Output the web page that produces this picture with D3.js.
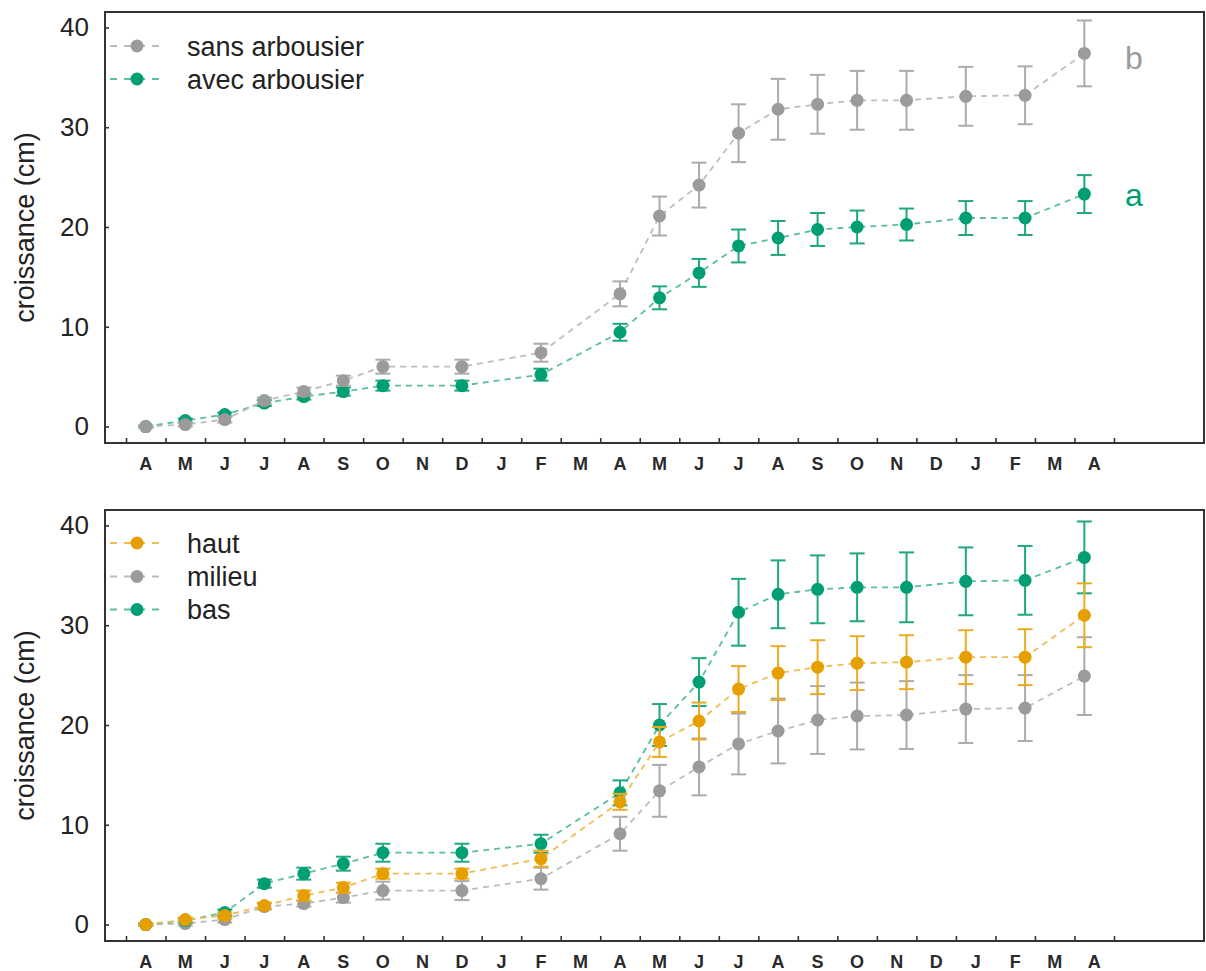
<!DOCTYPE html>
<html>
<head>
<meta charset="utf-8">
<script src="https://cdn.jsdelivr.net/npm/d3@7"></script>
<style>
  html, body { margin: 0; padding: 0; background: #fff; }
  svg { display: block; font-family: "Liberation Sans", Arial, sans-serif; }
</style>
</head>
<body>
<svg id="chart" width="1206" height="971"></svg>
<script>
// ---- data ----
const monthLabels = ["A","M","J","J","A","S","O","N","D","J","F","M","A","M","J","J","A","S","O","N","D","J","F","M","A"];
// measurement times, in month index (0 = first April)
const timeIdx = [0,1,2,3,4,5,6,8,10,12,13,14,15,16,17,18,19.25,20.75,22.25,23.75];
const yTicks = [0,10,20,30,40];

const sansMean = [0,0.2,0.7,2.6,3.5,4.6,6.0,6.0,7.4,13.3,21.1,24.2,29.4,31.8,32.3,32.7,32.7,33.1,33.2,37.4];
const sansErr  = [0.1,0.2,0.3,0.3,0.4,0.5,0.7,0.7,0.9,1.25,1.95,2.25,2.9,3.05,2.95,2.95,2.95,2.95,2.9,3.3];
const avecMean = [0,0.6,1.2,2.35,3.0,3.5,4.1,4.1,5.2,9.45,12.9,15.4,18.1,18.9,19.75,20.0,20.25,20.9,20.9,23.3];
const avecErr  = [0.1,0.2,0.2,0.3,0.3,0.4,0.5,0.5,0.6,0.85,1.15,1.4,1.65,1.7,1.65,1.65,1.6,1.7,1.7,1.9];

const hautMean   = [0,0.5,0.9,1.9,2.9,3.7,5.1,5.1,6.6,12.3,18.3,20.4,23.6,25.2,25.8,26.2,26.3,26.8,26.8,31.0];
const hautErr    = [0.1,0.2,0.3,0.3,0.5,0.5,0.5,0.5,0.8,0.8,1.5,1.85,2.3,2.7,2.7,2.7,2.7,2.7,2.8,3.2];
const milieuMean = [0,0.1,0.5,1.8,2.1,2.7,3.4,3.4,4.6,9.1,13.4,15.8,18.1,19.4,20.5,20.9,21.0,21.6,21.7,24.9];
const milieuErr  = [0.1,0.2,0.3,0.3,0.3,0.5,0.9,0.95,1.1,1.7,2.6,2.85,3.05,3.25,3.4,3.35,3.4,3.4,3.3,3.9];
const basMean    = [0,0.4,1.2,4.1,5.1,6.1,7.2,7.2,8.1,13.2,20.0,24.3,31.3,33.1,33.6,33.8,33.8,34.4,34.5,36.8];
const basErr     = [0.1,0.2,0.3,0.4,0.6,0.7,0.9,0.9,0.9,1.25,2.1,2.4,3.35,3.4,3.4,3.4,3.5,3.4,3.45,3.6];

const yLabel = "croissance (cm)";

// ---- styles ----
const COL = {
  gray:   {dot:"#9b9b9b", bar:"#ababab", line:"#bdbdbd"},
  green:  {dot:"#009E73", bar:"#1fa87f", line:"#5cbf9c"},
  orange: {dot:"#E69F00", bar:"#ebac22", line:"#f0bb55"}
};

const svg = d3.select("#chart");
const boxLeft = 105, boxRight = 1204, panelH = 431;

const x = d3.scaleLinear().domain([-0.5, 24.5]).range([126, 1114]);

function drawPanel(top, series, legend, notes) {
  const y = d3.scaleLinear().domain([-1.65, 41.55]).range([top + panelH, top]);
  const g = svg.append("g");

  // y ticks and labels
  const yAxis = d3.axisLeft(y).tickValues(yTicks).tickSize(-4).tickPadding(16).tickFormat(d3.format("d"));
  const ya = g.append("g").attr("transform", `translate(${boxLeft},0)`).call(yAxis);
  ya.select(".domain").remove();
  ya.selectAll(".tick line").attr("stroke", "#333").attr("stroke-width", 1.6);
  ya.selectAll(".tick text").attr("font-size", 26).attr("fill", "#222")
    .attr("font-family", "Liberation Sans, Arial, sans-serif");

  // x ticks (boundaries) and month labels
  const bounds = d3.range(-0.5, 25, 1);
  const xAxis = d3.axisBottom(x).tickValues(bounds).tickSize(-5).tickFormat("");
  const xa = g.append("g").attr("transform", `translate(0,${top + panelH})`).call(xAxis);
  xa.select(".domain").remove();
  xa.selectAll(".tick line").attr("stroke", "#333").attr("stroke-width", 1.6);

  g.append("g").selectAll("text").data(monthLabels).join("text")
    .attr("x", (d, i) => x(i)).attr("y", top + panelH + 27)
    .attr("text-anchor", "middle").attr("font-size", 18).attr("font-weight", "bold")
    .attr("fill", "#2a2a2a").text(d => d);

  // frame
  g.append("rect").attr("x", boxLeft).attr("y", top).attr("width", boxRight - boxLeft).attr("height", panelH)
    .attr("fill", "none").attr("stroke", "#333").attr("stroke-width", 2);

  // y label
  g.append("text").attr("transform", `translate(34,${top + panelH / 2}) rotate(-90)`)
    .attr("text-anchor", "middle").attr("font-size", 27).attr("fill", "#222").text(yLabel);

  // series
  const line = d3.line().x(d => x(d.t)).y(d => y(d.m));
  series.forEach(s => {
    const pts = timeIdx.map((t, i) => ({t, m: s.mean[i], e: s.err[i]}));
    const sg = g.append("g");
    sg.append("path").datum(pts).attr("d", line).attr("fill", "none")
      .attr("stroke", s.col.line).attr("stroke-width", 1.8).attr("stroke-dasharray", "6,5");
    const eb = sg.append("g").selectAll("g").data(pts).join("g")
      .attr("stroke", s.col.bar).attr("stroke-width", 2);
    eb.append("line").attr("x1", d => x(d.t)).attr("x2", d => x(d.t))
      .attr("y1", d => y(d.m - d.e)).attr("y2", d => y(d.m + d.e));
    eb.append("line").attr("x1", d => x(d.t) - 7.5).attr("x2", d => x(d.t) + 7.5)
      .attr("y1", d => y(d.m + d.e)).attr("y2", d => y(d.m + d.e));
    eb.append("line").attr("x1", d => x(d.t) - 7.5).attr("x2", d => x(d.t) + 7.5)
      .attr("y1", d => y(d.m - d.e)).attr("y2", d => y(d.m - d.e));
    sg.append("g").selectAll("circle").data(pts).join("circle")
      .attr("cx", d => x(d.t)).attr("cy", d => y(d.m)).attr("r", 6.5).attr("fill", s.col.dot);
  });

  // legend
  legend.forEach((l, i) => {
    const ly = top + l.dy;
    g.append("line").attr("x1", 110).attr("x2", 160).attr("y1", ly).attr("y2", ly)
      .attr("stroke", l.col.line).attr("stroke-width", 2).attr("stroke-dasharray", "7,7");
    g.append("circle").attr("cx", 137).attr("cy", ly).attr("r", 6.5).attr("fill", l.col.dot);
    g.append("text").attr("x", 187).attr("y", ly).attr("dy", "0.36em")
      .attr("font-size", 27).attr("fill", "#222").text(l.name);
  });

  // annotations
  notes.forEach(n => {
    g.append("text").attr("x", 1134).attr("y", y(n.v) + n.off).attr("dy", "0.35em")
      .attr("text-anchor", "middle").attr("font-size", 32).attr("fill", n.col).text(n.text);
  });
}

drawPanel(12,
  [ {mean: avecMean, err: avecErr, col: COL.green},
    {mean: sansMean, err: sansErr, col: COL.gray} ],
  [ {name: "sans arbousier", col: COL.gray, dy: 34},
    {name: "avec arbousier", col: COL.green, dy: 67} ],
  [ {text: "b", v: 37.4, off: 4, col: "#9b9b9b"},
    {text: "a", v: 23.3, off: 1, col: "#009E73"} ]
);

drawPanel(510,
  [ {mean: milieuMean, err: milieuErr, col: COL.gray},
    {mean: basMean, err: basErr, col: COL.green},
    {mean: hautMean, err: hautErr, col: COL.orange} ],
  [ {name: "haut", col: COL.orange, dy: 33},
    {name: "milieu", col: COL.gray, dy: 66.5},
    {name: "bas", col: COL.green, dy: 99.5} ],
  []
);
</script>
</body>
</html>
